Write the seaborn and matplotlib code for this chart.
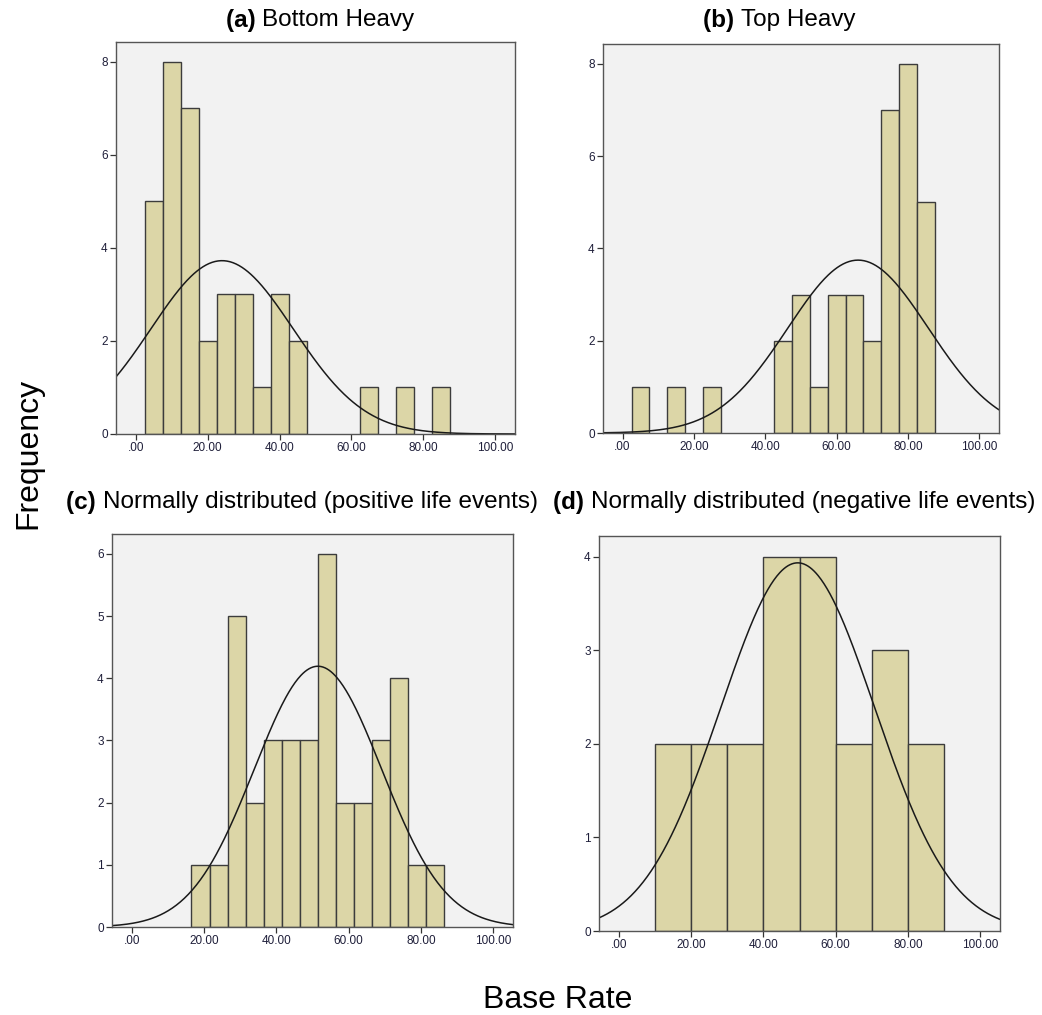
import numpy as np
import pandas as pd
import matplotlib
matplotlib.use("Agg")
import matplotlib.pyplot as plt
import seaborn as sns

# ---- data (bin centres and frequencies) ----
a_centers = [5, 10, 15, 20, 25, 30, 35, 40, 45, 65, 75, 85]
a_counts = [5, 8, 7, 2, 3, 3, 1, 3, 2, 1, 1, 1]

b_centers = [5, 15, 25, 45, 50, 55, 60, 65, 70, 75, 80, 85]
b_counts = [1, 1, 1, 2, 3, 1, 3, 3, 2, 7, 8, 5]

c_centers = [19, 24, 29, 34, 39, 44, 49, 54, 59, 64, 69, 74, 79, 84]
c_counts = [1, 1, 5, 2, 3, 3, 3, 6, 2, 2, 3, 4, 1, 1]

d_centers = [15, 25, 35, 45, 55, 65, 75, 85]
d_counts = [2, 2, 2, 4, 4, 2, 3, 2]

# fitted normal curves (mean, sd) as drawn by SPSS
normal_fit = {
    "a": (24.0, 19.8),
    "b": (66.0, 19.7),
    "c": (51.5, 17.6),
    "d": (49.5, 21.3),
}

titles = {
    "a": ("(a)", "Bottom Heavy"),
    "b": ("(b)", "Top Heavy"),
    "c": ("(c)", "Normally distributed (positive life events)"),
    "d": ("(d)", "Normally distributed (negative life events)"),
}

x_ticks = [0, 20, 40, 60, 80, 100]
x_ticklabels = [".00", "20.00", "40.00", "60.00", "80.00", "100.00"]

sns.set_theme(style="white")
plt.rcParams["font.family"] = ["Liberation Sans", "DejaVu Sans"]
plt.rcParams["text.color"] = "black"

BAR = "#dcd6a7"
EDGE = "#3c3c3c"
BG = "#f2f2f2"

fig = plt.figure(figsize=(10.42, 10.15), dpi=100)
W, H = 1042, 1015


def px_axes(left, top, right, bottom):
    return fig.add_axes([left / W, 1 - bottom / H, (right - left) / W, (bottom - top) / H])


panels = {
    "a": dict(box=(116, 42, 515, 434), centers=a_centers, counts=a_counts, width=5, ymax=8.43, yticks=[0, 2, 4, 6, 8]),
    "b": dict(box=(603, 44, 999, 433), centers=b_centers, counts=b_counts, width=5, ymax=8.43, yticks=[0, 2, 4, 6, 8]),
    "c": dict(box=(112, 534, 513, 927), centers=c_centers, counts=c_counts, width=5, ymax=6.32, yticks=[0, 1, 2, 3, 4, 5, 6]),
    "d": dict(box=(599, 536, 1000, 931), centers=d_centers, counts=d_counts, width=10, ymax=4.22, yticks=[0, 1, 2, 3, 4]),
}

for key, p in panels.items():
    ax = px_axes(*p["box"])
    df = pd.DataFrame({"rate": p["centers"], "n": p["counts"]})
    w = p["width"]
    lo = min(p["centers"]) - w / 2
    hi = max(p["centers"]) + w / 2
    # empty bins drop out (zero height)
    sns.histplot(data=df, x="rate", weights="n", binwidth=w, binrange=(lo, hi), ax=ax,
                 color=BAR, alpha=1, edgecolor=EDGE, linewidth=1.0)
    for patch in ax.patches:
        if patch.get_height() == 0:
            patch.set_visible(False)

    mu, sd = normal_fit[key]
    xs = np.linspace(-5.5, 105.5, 400)
    ys = sum(p["counts"]) * w * np.exp(-0.5 * ((xs - mu) / sd) ** 2) / (sd * np.sqrt(2 * np.pi))
    sns.lineplot(x=xs, y=ys, ax=ax, color="#1a1a1a", linewidth=1.1)

    ax.set_xlim(-5.5, 105.5)
    ax.set_ylim(0, p["ymax"])
    ax.set_facecolor(BG)
    ax.set_xticks(x_ticks)
    ax.set_xticklabels(x_ticklabels)
    ax.set_yticks(p["yticks"])
    ax.tick_params(axis="both", labelsize=8.5, colors="#333333", labelcolor="#1f1f3a",
                   length=4, width=0.9, direction="out", bottom=True, left=True, pad=2)
    ax.set_xlabel("")
    ax.set_ylabel("")
    for s in ax.spines.values():
        s.set_color("#555555")
        s.set_linewidth(1.0)

# panel titles: bold letter + regular text
title_pos = {"a": (320, 20), "b": (779, 20), "c": (302, 502), "d": (794, 502)}
for key, (cx, cy) in title_pos.items():
    tag, txt = titles[key]
    t1 = fig.text(0, 0, tag + " ", fontsize=17.5, fontweight="bold", color="black")
    t2 = fig.text(0, 0, txt, fontsize=17.5, color="black")
    fig.canvas.draw()
    r = fig.canvas.get_renderer()
    w1 = t1.get_window_extent(r).width
    w2 = t2.get_window_extent(r).width
    x0 = cx - (w1 + w2) / 2
    t1.set_position((x0 / W, 1 - cy / H))
    t1.set_va("center")
    t2.set_position(((x0 + w1) / W, 1 - cy / H))
    t2.set_va("center")

fig.text(28 / W, 1 - 453 / H, "Frequency", rotation=90, fontsize=23, ha="center", va="center", color="black")
fig.text(558 / W, 1 - 1000 / H, "Base Rate", fontsize=23, ha="center", va="center", color="black")

fig.savefig("out.png", dpi=100, facecolor="white")
